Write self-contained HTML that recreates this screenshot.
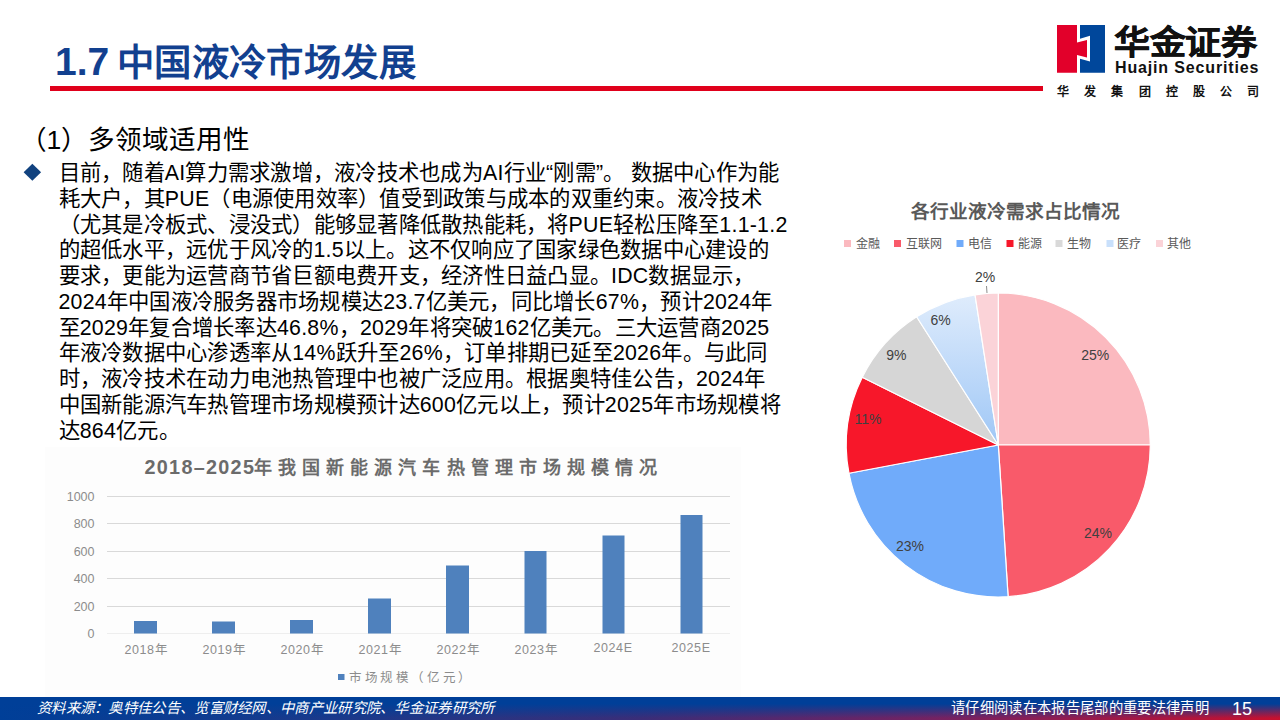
<!DOCTYPE html>
<html lang="zh-CN"><head><meta charset="utf-8">
<style>
*{margin:0;padding:0;box-sizing:border-box}
html,body{width:1280px;height:720px;overflow:hidden;background:#fff}
body{position:relative;font-family:"Liberation Sans",sans-serif;color:#000}
.abs{position:absolute;white-space:nowrap}
#title{left:55px;top:38px;font-size:37.33px;font-weight:bold;color:#12408f;line-height:48px}
#redline{left:50px;top:86px;width:993px;height:5px;background:#e0001b}
#sub{left:19.5px;top:123.5px;font-size:26.6px;line-height:32px;color:#000}
#diamond{left:26px;top:166px;width:12.4px;height:12.4px;background:#11427f;transform:rotate(45deg)}
.tl{left:58.5px;letter-spacing:0.25px;font-size:21.33px;line-height:26px;color:#000}
#chartbg{left:45px;top:447px;width:696px;height:251px;background:#fdfdfd}
#footer{left:0;top:697px;width:1280px;height:23px;background:linear-gradient(to bottom,rgba(0,63,152,1) 0%,rgba(0,63,152,1) 30%,rgba(0,63,152,0) 92%),linear-gradient(to right,#003f98 0%,#1f3888 30%,#3a2d78 50%,#7a2160 75%,#c8102e 100%)}
#src{left:37px;top:699px;font-size:14.4px;line-height:18px;color:#fff;font-style:italic;letter-spacing:0.3px}
#legal{left:951px;top:699px;font-size:14.3px;line-height:18px;color:#fff;letter-spacing:0.33px}
#pnum{left:1232px;top:698px;font-size:18px;line-height:22px;color:#fff}
</style></head><body>

<div id="title" class="abs"><span style="font-size:39px">1.7</span> <span style="position:relative;top:1px;margin-left:-2.5px;letter-spacing:0.35px">中国液冷市场发展</span></div>
<div id="redline" class="abs"></div>

<!-- logo -->
<svg class="abs" style="left:1050px;top:20px" width="60" height="60" viewBox="1050 20 60 60">
  <path d="M1057 25H1077V42.5L1087 40V57.5L1077 55V72.7H1057Z" fill="#e2002a"/>
  <path d="M1080 25H1105V72.7H1080V58.8L1090 61.4V35.8L1080 38.8Z" fill="#00479b"/>
</svg>
<div class="abs" style="left:1114px;top:25px;font-size:36px;line-height:40px;font-weight:bold;letter-spacing:-0.5px;color:#111;-webkit-text-stroke:0.7px #111;transform:scaleY(0.9);transform-origin:0 0">华金证券</div>
<div class="abs" style="left:1115px;top:58px;font-size:16px;line-height:20px;font-weight:bold;letter-spacing:0.85px;color:#111">Huajin Securities</div>
<div class="abs" style="left:1057px;top:84.2px;font-size:12px;line-height:16px;font-weight:bold;color:#111;letter-spacing:15.2px">华发集团控股公司</div>

<div id="sub" class="abs">（1）多领域适用性</div>
<svg class="abs" style="left:0;top:0" width="60" height="200"><polygon points="23.6,172.25 32.35,163.75 41.1,172.25 32.35,180.75" fill="#11427f"/></svg>
<div class="abs tl" style="top:160.00px">目前，随着AI算力需求激增，液冷技术也成为AI行业“刚需”。 数据中心作为能</div>
<div class="abs tl" style="top:185.75px">耗大户，其PUE（电源使用效率）值受到政策与成本的双重约束。液冷技术</div>
<div class="abs tl" style="top:211.50px">（尤其是冷板式、浸没式）能够显著降低散热能耗，将PUE轻松压降至1.1-1.2</div>
<div class="abs tl" style="top:237.25px">的超低水平，远优于风冷的1.5以上。这不仅响应了国家绿色数据中心建设的</div>
<div class="abs tl" style="top:263.00px">要求，更能为运营商节省巨额电费开支，经济性日益凸显。IDC数据显示，</div>
<div class="abs tl" style="top:288.75px">2024年中国液冷服务器市场规模达23.7亿美元，同比增长67%，预计2024年</div>
<div class="abs tl" style="top:314.50px">至2029年复合增长率达46.8%，2029年将突破162亿美元。三大运营商2025</div>
<div class="abs tl" style="top:340.25px">年液冷数据中心渗透率从14%跃升至26%，订单排期已延至2026年。与此同</div>
<div class="abs tl" style="top:366.00px">时，液冷技术在动力电池热管理中也被广泛应用。根据奥特佳公告，2024年</div>
<div class="abs tl" style="top:391.75px">中国新能源汽车热管理市场规模预计达600亿元以上，预计2025年市场规模将</div>
<div class="abs tl" style="top:417.50px">达864亿元。</div>

<!-- bar chart -->
<div id="chartbg" class="abs"></div>
<svg class="abs" style="left:0;top:0" width="1280" height="720" viewBox="0 0 1280 720">
  <g stroke="#d9d9d9" stroke-width="1">
    <line x1="107" y1="496.5" x2="730" y2="496.5"/>
    <line x1="107" y1="523.5" x2="730" y2="523.5"/>
    <line x1="107" y1="551.5" x2="730" y2="551.5"/>
    <line x1="107" y1="578.5" x2="730" y2="578.5"/>
    <line x1="107" y1="606.5" x2="730" y2="606.5"/>
    <line x1="107" y1="633.5" x2="730" y2="633.5" stroke="#eeeeee"/>
  </g>
  <g fill="#4f81bd">
    <rect x="134" y="621" width="23" height="12.5"/>
    <rect x="212" y="621.5" width="23" height="12"/>
    <rect x="290" y="620" width="23" height="13.5"/>
    <rect x="368" y="598.5" width="23" height="35"/>
    <rect x="446" y="565.5" width="23" height="68"/>
    <rect x="524.5" y="551" width="22" height="82.5"/>
    <rect x="602.5" y="535.5" width="22" height="98"/>
    <rect x="680.5" y="515" width="22" height="118.5"/>
  </g>
  <g font-family="Liberation Sans, sans-serif" font-size="12.5" fill="#8c8c8c" text-anchor="end">
    <text x="94.5" y="501">1000</text>
    <text x="94.5" y="528">800</text>
    <text x="94.5" y="556">600</text>
    <text x="94.5" y="583">400</text>
    <text x="94.5" y="611">200</text>
    <text x="94.5" y="638">0</text>
  </g>
  <g font-family="Liberation Sans, sans-serif" font-size="12.5" fill="#8c8c8c" text-anchor="middle" letter-spacing="0.6">
    <text x="146.3" y="654">2018年</text>
    <text x="224.3" y="654">2019年</text>
    <text x="302.3" y="654">2020年</text>
    <text x="380.3" y="654">2021年</text>
    <text x="458.3" y="654">2022年</text>
    <text x="536.3" y="654">2023年</text>
    <text x="613" y="652">2024E</text>
    <text x="691" y="652">2025E</text>
  </g>
  <rect x="338" y="674" width="6.5" height="6" fill="#4f81bd"/>
  <text x="349" y="682" font-family="Liberation Sans, sans-serif" font-size="12.5" fill="#8c8c8c" letter-spacing="2.6">市场规模（亿元）</text>
  <text x="144.5" y="473.5" font-family="Liberation Sans, sans-serif" font-weight="bold" fill="#6b6b6b"><tspan font-size="19.8" letter-spacing="1.3">2018–2025</tspan><tspan font-size="18" letter-spacing="6.1" dx="-1.5">年我国新能源汽车热管理市场规模情况</tspan></text>

  <!-- pie -->
  <text x="1015" y="218" text-anchor="middle" font-family="Liberation Sans, sans-serif" font-size="18.6" font-weight="bold" fill="#595959">各行业液冷需求占比情况</text>
  <g font-family="Liberation Sans, sans-serif" font-size="12" fill="#595959">
    <rect x="844" y="240" width="7" height="7" fill="#fbb9bf"/><text x="855.5" y="248">金融</text>
    <rect x="894" y="240" width="7" height="7" fill="#f95a6a"/><text x="905.5" y="248">互联网</text>
    <rect x="956.5" y="240" width="7" height="7" fill="#70abfa"/><text x="967.5" y="248">电信</text>
    <rect x="1006.5" y="240" width="7" height="7" fill="#f7172a"/><text x="1017.5" y="248">能源</text>
    <rect x="1055.5" y="240" width="7" height="7" fill="#d9d9d9"/><text x="1066.5" y="248">生物</text>
    <rect x="1106.5" y="240" width="7" height="7" fill="#c9e0fb"/><text x="1116.5" y="248">医疗</text>
    <rect x="1156" y="240" width="7" height="7" fill="#fbd3d8"/><text x="1166.5" y="248">其他</text>
  </g>
  <defs>
    <linearGradient id="lb" x1="0" y1="0" x2="0" y2="1">
      <stop offset="0" stop-color="#dfecfc"/><stop offset="1" stop-color="#9fc7f6"/>
    </linearGradient>
  </defs>
  <g id="pie" stroke="#fff" stroke-width="1.2" stroke-linejoin="round"><path d="M998.3 445L998.30 293.00A152 152 0 0 1 1150.30 445.00Z" fill="#fbb9bf"/><path d="M998.3 445L1150.30 445.00A152 152 0 0 1 1008.11 596.68Z" fill="#f95a6a"/><path d="M998.3 445L1008.11 596.68A152 152 0 0 1 848.94 473.22Z" fill="#70abfa"/><path d="M998.3 445L848.94 473.22A152 152 0 0 1 862.27 377.18Z" fill="#f7172a"/><path d="M998.3 445L862.27 377.18A152 152 0 0 1 916.63 316.80Z" fill="#d6d6d6"/><path d="M998.3 445L916.63 316.80A152 152 0 0 1 975.05 294.79Z" fill="url(#lb)"/><path d="M998.3 445L975.05 294.79A152 152 0 0 1 998.30 293.00Z" fill="#fbd3d8"/></g>
  <line x1="986.5" y1="286" x2="987" y2="293" stroke="#8c8c8c" stroke-width="1"/>
  <g font-family="Liberation Sans, sans-serif" font-size="14" fill="#404040" text-anchor="middle">
    <text x="1095.2" y="360.2">25%</text>
    <text x="1098" y="538.3">24%</text>
    <text x="910" y="551.4">23%</text>
    <text x="868" y="424.2">11%</text>
    <text x="896.3" y="360">9%</text>
    <text x="940.5" y="325">6%</text>
    <text x="985" y="282">2%</text>
  </g>
</svg>

<div id="footer" class="abs"></div>
<div id="src" class="abs">资料来源：奥特佳公告、览富财经网、中商产业研究院、华金证券研究所</div>
<div id="legal" class="abs">请仔细阅读在本报告尾部的重要法律声明</div>
<div id="pnum" class="abs">15</div>
</body></html>
